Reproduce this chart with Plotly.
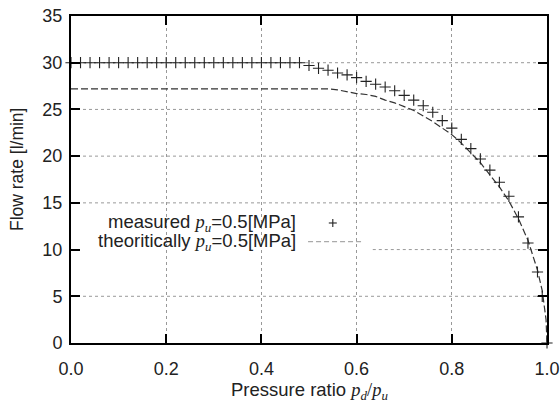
import plotly.graph_objects as go

# ---------------- data ----------------
ratio_measured = [0.00, 0.02, 0.04, 0.06, 0.08, 0.10, 0.12, 0.14, 0.16, 0.18,
                  0.20, 0.22, 0.24, 0.26, 0.28, 0.30, 0.32, 0.34, 0.36, 0.38,
                  0.40, 0.42, 0.44, 0.46, 0.48, 0.50, 0.52, 0.54, 0.56, 0.58,
                  0.60, 0.62, 0.64, 0.66, 0.68, 0.70, 0.72, 0.74, 0.76, 0.78,
                  0.80, 0.82, 0.84, 0.86, 0.88, 0.90, 0.92, 0.94, 0.96, 0.98,
                  0.99, 1.00]
flow_measured = [30.0, 30.0, 30.0, 30.0, 30.0, 30.0, 30.0, 30.0, 30.0, 30.0,
                 30.0, 30.0, 30.0, 30.0, 30.0, 30.0, 30.0, 30.0, 30.0, 30.0,
                 30.0, 30.0, 30.0, 30.0, 30.0, 29.7, 29.4, 29.2, 28.9, 28.7,
                 28.4, 28.0, 27.7, 27.4, 27.0, 26.5, 26.0, 25.4, 24.7, 23.8,
                 23.0, 21.8, 20.8, 19.7, 18.5, 17.2, 15.7, 13.5, 10.7, 7.6,
                 5.0, 0.0]

ratio_theory = [0.00, 0.53, 0.54, 0.56, 0.58, 0.60, 0.62, 0.64, 0.66, 0.68,
                0.70, 0.72, 0.74, 0.76, 0.78, 0.80, 0.82, 0.84, 0.86, 0.88,
                0.90, 0.92, 0.94, 0.96, 0.97, 0.98, 0.99, 0.995, 0.998, 1.00]
flow_theory = [27.2, 27.2, 27.2, 27.1, 26.9, 26.7, 26.6, 26.4, 26.0, 25.7,
               25.3, 24.9, 24.3, 23.7, 23.0, 22.3, 21.4, 20.4, 19.3, 18.0,
               16.7, 15.2, 13.3, 11.0, 9.5, 7.8, 5.6, 3.9, 2.5, 0.0]

x_ticks = [0.0, 0.2, 0.4, 0.6, 0.8, 1.0]
x_ticklabels = ["0.0", "0.2", "0.4", "0.6", "0.8", "1.0"]
y_ticks = [0, 5, 10, 15, 20, 25, 30, 35]

legend_measured = 'measured <span style="font-family:Liberation Serif"><i>p</i><sub><i>u</i></sub></span>=0.5[MPa]'
legend_theory = 'theoritically <span style="font-family:Liberation Serif"><i>p</i><sub><i>u</i></sub></span>=0.5[MPa]'
x_title = 'Pressure ratio <span style="font-family:Liberation Serif"><i>p</i><sub><i>d</i></sub>/<i>p</i><sub><i>u</i></sub></span>'
y_title = "Flow rate [l/min]"

FONT = "Liberation Sans, Arial, sans-serif"
TXT = "#222222"

fig = go.Figure()

fig.add_trace(go.Scatter(
    x=ratio_theory, y=flow_theory, mode="lines",
    line=dict(color="#333333", width=1.2, dash="7px,3px"),
    showlegend=False, hoverinfo="skip"))

fig.add_trace(go.Scatter(
    x=ratio_measured, y=flow_measured, mode="markers",
    marker=dict(symbol="cross-thin", size=8, line=dict(color="#222222", width=1.1)),
    showlegend=False, hoverinfo="skip", cliponaxis=False))

shapes = []
# horizontal dotted grid lines (the y=10 one is interrupted by the key)
for v in y_ticks[1:-1]:
    shapes.append(dict(type="line", xref="paper", yref="y",
                       x0=0.634 if v == 10 else 0.0, x1=1.0, y0=v, y1=v,
                       line=dict(color="#999999", width=1, dash="dot"),
                       layer="below"))

# key samples
shapes.append(dict(type="line", xref="paper", yref="paper",
                   x0=0.498, x1=0.611, y0=0.310, y1=0.310,
                   line=dict(color="#aaaaaa", width=1.2, dash="5px,3px")))
shapes.append(dict(type="line", xref="paper", yref="paper",
                   x0=0.550 - 0.0084, x1=0.550 + 0.0084, y0=0.367, y1=0.367,
                   line=dict(color="#222222", width=1.1)))
shapes.append(dict(type="line", xref="paper", yref="paper",
                   x0=0.550, x1=0.550, y0=0.367 - 0.0122, y1=0.367 + 0.0122,
                   line=dict(color="#222222", width=1.1)))

annotations = [
    dict(text=legend_measured, xref="paper", yref="paper", x=0.477, y=0.367,
         xanchor="right", yanchor="middle", showarrow=False,
         font=dict(family=FONT, size=18.5, color=TXT)),
    dict(text=legend_theory, xref="paper", yref="paper", x=0.477, y=0.310,
         xanchor="right", yanchor="middle", showarrow=False,
         font=dict(family=FONT, size=18.5, color=TXT)),
    dict(text=x_title, xref="paper", yref="paper", x=0.5, y=-0.148,
         xanchor="center", yanchor="middle", showarrow=False,
         font=dict(family=FONT, size=18.5, color=TXT)),
    dict(text=y_title, xref="paper", yref="paper", x=-0.1134, y=0.532,
         xanchor="center", yanchor="middle", showarrow=False, textangle=-90,
         font=dict(family=FONT, size=17.5, color=TXT)),
]

axis_common = dict(
    ticks="inside", ticklen=9, tickwidth=2, tickcolor="black",
    showline=True, linewidth=2, linecolor="black", mirror="ticks",
    zeroline=False, automargin=False,
    tickfont=dict(family=FONT, size=18, color=TXT),
)

fig.update_layout(
    width=560, height=403,
    margin=dict(l=71, r=13, t=16, b=60),
    paper_bgcolor="white", plot_bgcolor="white",
    xaxis=dict(range=[0, 1], tickvals=x_ticks, ticktext=x_ticklabels,
               showgrid=True, gridcolor="#999999", gridwidth=1, griddash="dot",
               ticklabelstandoff=8, **axis_common),
    yaxis=dict(range=[0, 35], tickvals=y_ticks, showgrid=False,
               ticklabelstandoff=3, **axis_common),
    shapes=shapes, annotations=annotations, showlegend=False,
)

fig.write_html("out.html", config={"displayModeBar": False},
               post_script="document.body.style.margin='0';")
